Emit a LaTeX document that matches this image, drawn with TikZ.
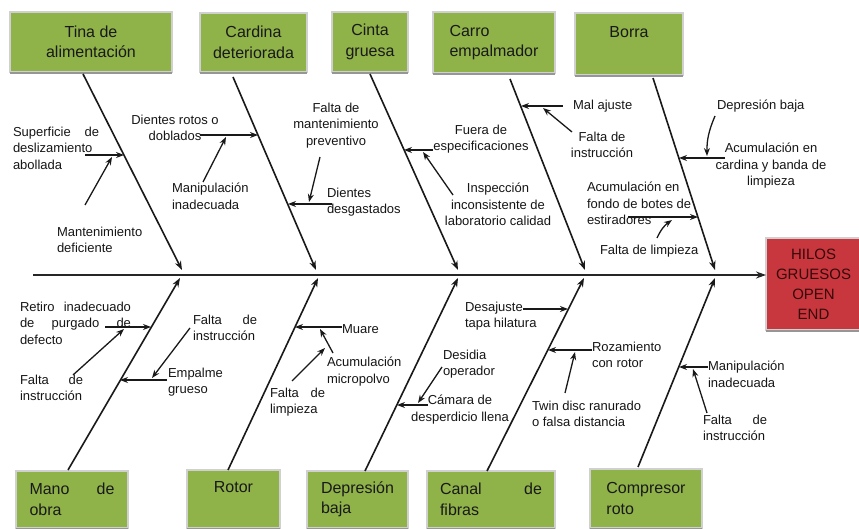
\documentclass[tikz,border=0pt]{standalone}
\usepackage{fontspec}
\setmainfont{Liberation Sans}
\usetikzlibrary{arrows.meta,calc}
\definecolor{boxgreen}{RGB}{143,178,73}
\definecolor{boxred}{RGB}{200,55,62}
\definecolor{txt}{RGB}{22,22,22}
\definecolor{boxedge}{RGB}{208,208,208}
\definecolor{boxshadow}{RGB}{150,150,150}
\definecolor{effecttext}{RGB}{55,8,10}
\begin{document}
\begin{tikzpicture}[x=1pt,y=-1pt,
  lbl/.style={inner sep=0pt, outer sep=0pt, font=\fontsize{13}{16.5}\selectfont, text=txt},
  cause/.style={draw=boxedge, line width=2.5pt, fill=boxgreen, inner sep=0pt, outer sep=0pt,
     anchor=north west, font=\fontsize{16}{20.5}\selectfont, text=black!90},
  effectbox/.style={draw=boxedge, line width=2.5pt, fill=boxred, inner sep=0pt, outer sep=0pt,
     anchor=north west, minimum width=95pt, minimum height=92pt},
  effectlbl/.style={inner sep=0pt, outer sep=0pt, font=\fontsize{15}{20}\selectfont, text=effecttext, align=center},
  bone/.style={draw=black!90, line width=1.6pt, -{Stealth[length=9pt,width=6.5pt]}},
  spine/.style={draw=black!85, line width=2.4pt, -{Stealth[length=10pt,width=7pt]}},
  sub/.style={draw=black!90, line width=1.3pt, -{Stealth[length=8pt,width=6pt]}}
]
\useasboundingbox (0,0) rectangle (859,529);
\fill[white] (0,0) rectangle (859,529);

% ---------- boxes ----------
\node[cause, minimum width=162pt, minimum height=60pt, align=center] (tina) at (10,12) {Tina de\\alimentación};
\node[cause, minimum width=107pt, minimum height=59pt, align=center] (cardina) at (200,13) {Cardina\\deteriorada};
\node[cause, minimum width=76pt, minimum height=60pt, align=center] (cinta) at (332,12) {Cinta\\gruesa};
\node[cause, minimum width=122pt, minimum height=61pt, align=left] (carro) at (433,12) {Carro\\empalmador};
\node[cause, minimum width=108pt, minimum height=62pt, align=center] (borra) at (575,13) {Borra\\\phantom{g}};
\node[cause, minimum width=112pt, minimum height=57pt, align=left] (mano) at (16,471) {\makebox[85pt][s]{Mano de}\\obra};
\node[cause, minimum width=93pt, minimum height=58pt, align=center] (rotor) at (187,470) {Rotor\\\phantom{g}};
\node[cause, minimum width=101pt, minimum height=57pt, align=left] (depre) at (307,471) {Depresión\\baja};
\node[cause, minimum width=128pt, minimum height=57pt, align=left] (canal) at (427,471) {\makebox[102pt][s]{Canal de}\\fibras};
\node[cause, minimum width=112pt, minimum height=59pt, align=left] (compre) at (590,469) {Compresor\\roto};
\node[effectbox] (effect) at (766,238) {};
\foreach \n in {tina,cardina,cinta,carro,borra,mano,rotor,depre,canal,compre,effect}
  \draw[boxshadow, line width=2pt] ([yshift=-1.2pt]\n.south west) -- ([yshift=-1.2pt]\n.south east);
\node[effectlbl] (effecttxt) at (effect.center) {HILOS\\GRUESOS\\OPEN\\END};

% ---------- spine ----------
\coordinate (sp0) at (33,275);
\draw[spine] (sp0) -- (sp0 -| effect.west);

% ---------- main bones ----------
\coordinate (t1a) at (83,74);   \coordinate (t1b) at (182,270);
\coordinate (t2a) at (233,77);  \coordinate (t2b) at (316,270);
\coordinate (t3a) at (370,74);  \coordinate (t3b) at (458,270);
\coordinate (t4a) at (510,79);  \coordinate (t4b) at (585,270);
\coordinate (t5a) at (653,78);  \coordinate (t5b) at (715,270);
\coordinate (b1a) at (68,470);  \coordinate (b1b) at (180,278);
\coordinate (b2a) at (228,470); \coordinate (b2b) at (318,278);
\coordinate (b3a) at (365,471); \coordinate (b3b) at (458,278);
\coordinate (b4a) at (487,471); \coordinate (b4b) at (584,278);
\coordinate (b5a) at (638,467); \coordinate (b5b) at (715,278);
\foreach \k in {t1,t2,t3,t4,t5,b1,b2,b3,b4,b5}
  \draw[bone] (\k a) -- (\k b);

% ---------- labels ----------
\node[lbl, anchor=north west, align=left] (l1) at (13,127) {\makebox[86pt][s]{Superficie de}\\deslizamiento\\abollada};
\node[lbl, anchor=north west, align=left] (l2) at (57,227) {Mantenimiento\\deficiente};
\node[lbl, anchor=north, align=center] (l3) at (175,115) {Dientes rotos o\\doblados};
\node[lbl, anchor=north west, align=left] (l4) at (172,183) {Manipulación\\inadecuada};
\node[lbl, anchor=north, align=center] (l5) at (336,103) {Falta de\\mantenimiento\\preventivo};
\node[lbl, anchor=north west, align=left] (l6) at (327,188) {Dientes\\desgastados};
\node[lbl, anchor=north, align=center] (l7) at (481,125) {Fuera de\\especificaciones};
\node[lbl, anchor=north, align=center] (l8) at (498,183) {Inspección\\inconsistente de\\laboratorio calidad};
\node[lbl, anchor=north west, align=left] (l9) at (573,100) {Mal ajuste};
\node[lbl, anchor=north, align=center] (l10) at (602,132) {Falta de\\instrucción};
\node[lbl, anchor=north west, align=left] (l11) at (717,100) {Depresión baja};
\node[lbl, anchor=north, align=center] (l12) at (771,143) {Acumulación en\\cardina y banda de\\limpieza};
\node[lbl, anchor=north west, align=left] (l13) at (587,182) {Acumulación en\\fondo de botes de\\estiradores};
\node[lbl, anchor=north west, align=left] (l14) at (600,245) {Falta de limpieza};

\node[lbl, anchor=north west, align=left] (l15) at (20,302) {\makebox[111pt][s]{Retiro inadecuado}\\\makebox[111pt][s]{de purgado de}\\defecto};
\node[lbl, anchor=north west, align=left] (l16) at (20,375) {\makebox[63pt][s]{Falta de}\\instrucción};
\node[lbl, anchor=north west, align=left] (l17) at (193,315) {\makebox[64pt][s]{Falta de}\\instrucción};
\node[lbl, anchor=north west, align=left] (l18) at (168,368) {Empalme\\grueso};
\node[lbl, anchor=north west, align=left] (l19) at (342,325) {Muare};
\node[lbl, anchor=north west, align=left] (l20) at (327,357) {Acumulación\\micropolvo};
\node[lbl, anchor=north west, align=left] (l21) at (270,388) {\makebox[55pt][s]{Falta de}\\limpieza};
\node[lbl, anchor=north west, align=left] (l22) at (443,350) {Desidia\\operador};
\node[lbl, anchor=north, align=center] (l23) at (460,395) {Cámara de\\desperdicio llena};
\node[lbl, anchor=north west, align=left] (l24) at (465,302) {Desajuste\\tapa hilatura};
\node[lbl, anchor=north west, align=left] (l25) at (592,342) {Rozamiento\\con rotor};
\node[lbl, anchor=north west, align=left] (l26) at (532,401) {Twin disc ranurado\\o falsa distancia};
\node[lbl, anchor=north west, align=left] (l27) at (708,361) {Manipulación\\inadecuada};
\node[lbl, anchor=north west, align=left] (l28) at (703,415) {\makebox[64pt][s]{Falta de}\\instrucción};

% ---------- sub-cause arrows ----------
% top side
\coordinate (s1a) at (85,155);  \coordinate (s1b) at (124,155);
\coordinate (s2a) at (85,205);  \coordinate (s2b) at (112,157);
\coordinate (s3a) at (200,135); \coordinate (s3b) at (258,135);
\coordinate (s4a) at (203,182); \coordinate (s4b) at (226,137);
\coordinate (s5a) at (320,157); \coordinate (s5b) at (309,202);
\coordinate (s6a) at (332,204); \coordinate (s6b) at (288,204);
\coordinate (s7a) at (433,150); \coordinate (s7b) at (404,150);
\coordinate (s8a) at (453,195); \coordinate (s8b) at (423,152);
\coordinate (s9a) at (563,106); \coordinate (s9b) at (521,106);
\coordinate (s10a) at (572,132); \coordinate (s10b) at (543,108);
\coordinate (s11a) at (715,116); \coordinate (s11b) at (707,156);
\coordinate (s12a) at (725,158); \coordinate (s12b) at (679,158);
\coordinate (s13a) at (628,217); \coordinate (s13b) at (698,217);
\coordinate (s14a) at (657,238); \coordinate (s14b) at (672,220);
% bottom side
\coordinate (s15a) at (105,327); \coordinate (s15b) at (151,327);
\coordinate (s16a) at (73,375);  \coordinate (s16b) at (124,329);
\coordinate (s17a) at (190,328); \coordinate (s17b) at (152,378);
\coordinate (s18a) at (167,380); \coordinate (s18b) at (120,380);
\coordinate (s19a) at (342,327); \coordinate (s19b) at (295,327);
\coordinate (s20a) at (333,353); \coordinate (s20b) at (320,329);
\coordinate (s21a) at (292,381); \coordinate (s21b) at (325,348);
\coordinate (s22a) at (442,367); \coordinate (s22b) at (418,403);
\coordinate (s23a) at (428,405); \coordinate (s23b) at (397,405);
\coordinate (s24a) at (523,309); \coordinate (s24b) at (568,309);
\coordinate (s25a) at (592,350); \coordinate (s25b) at (548,350);
\coordinate (s26a) at (565,393); \coordinate (s26b) at (575,352);
\coordinate (s27a) at (708,367); \coordinate (s27b) at (679,367);
\coordinate (s28a) at (707,413); \coordinate (s28b) at (693,369);

\foreach \k in {s1,s2,s3,s4,s5,s6,s7,s8,s9,s10,s12,s13,s15,s16,s17,s18,s19,s20,s21,s22,s23,s24,s25,s26,s27,s28}
  \draw[sub] (\k a) -- (\k b);
\draw[sub] (s11a) to[bend right=12] (s11b);
\draw[sub] (s14a) to[bend left=15] (s14b);
\end{tikzpicture}
\end{document}
